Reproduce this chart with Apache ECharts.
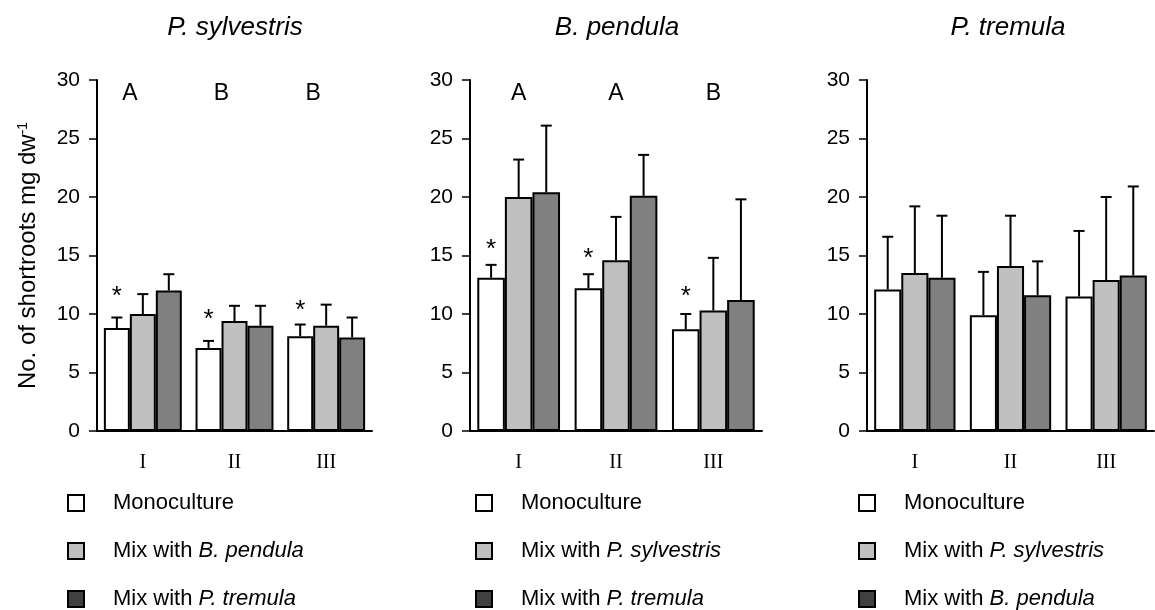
<!DOCTYPE html>
<html>
<head>
<meta charset="utf-8">
<script src="https://cdn.jsdelivr.net/npm/echarts@6/dist/echarts.min.js"></script>
<style>
html, body { margin: 0; padding: 0; background: #fff; }
#main { width: 1155px; height: 610px; }
</style>
</head>
<body>
<div id="main"></div>
<script>
// categories and tick labels
var cats = ['I', 'II', 'III'];
var yTicks = [0, 5, 10, 15, 20, 25, 30];

// P. sylvestris
var sylMono = [8.8, 7.1, 8.1];
var sylMonoSd = [0.9, 0.6, 1.0];
var sylMixB = [10.0, 9.4, 9.0];
var sylMixBSd = [1.7, 1.3, 1.8];
var sylMixT = [12.0, 9.0, 8.0];
var sylMixTSd = [1.4, 1.7, 1.7];
var sylStars = [12.1, 10.1, 10.9];
var sylLetters = ['A', 'B', 'B'];

// B. pendula
var penMono = [13.1, 12.2, 8.7];
var penMonoSd = [1.1, 1.2, 1.3];
var penMixS = [20.0, 14.6, 10.3];
var penMixSSd = [3.2, 3.7, 4.5];
var penMixT = [20.4, 20.1, 11.2];
var penMixTSd = [5.7, 3.5, 8.6];
var penStars = [16.1, 15.3, 12.1];
var penLetters = ['A', 'A', 'B'];

// P. tremula
var treMono = [12.1, 9.9, 11.5];
var treMonoSd = [4.5, 3.7, 5.6];
var treMixS = [13.5, 14.1, 12.9];
var treMixSSd = [5.7, 4.3, 7.1];
var treMixB = [13.1, 11.6, 13.3];
var treMixBSd = [5.3, 2.9, 7.6];

var letterY = 28.8;
var GAP = 0.15;
var WHITE = '#ffffff', LIGHT = '#c0c0c0', DARK = '#808080', ICON_DARK = '#404040';
var FONT = 'Liberation Sans, Arial, sans-serif';

var dom = document.getElementById('main');
var myChart = echarts.init(dom);

function errRender(k) {
    return function (params, api) {
        var cat = api.value(0), mean = api.value(1), sd = api.value(2);
        var base = api.coord([cat, mean]);
        var top = api.coord([cat, mean + sd]);
        var band = api.size([1, 0])[0];
        var w = band * (1 - GAP) / 3;
        var x = base[0] - band * (1 - GAP) / 2 + (k + 0.5) * w;
        var cap = 11;
        return {
            type: 'group',
            children: [
                {type: 'line', shape: {x1: x, y1: base[1], x2: x, y2: top[1]}, style: {stroke: '#000', lineWidth: 2}},
                {type: 'line', shape: {x1: x - cap / 2, y1: top[1], x2: x + cap / 2, y2: top[1]}, style: {stroke: '#000', lineWidth: 2}}
            ]
        };
    };
}

function toRows(means, sds) {
    return means.map(function (m, i) { return [i, m, sds[i]]; });
}

function starMarks(vals) {
    return {
        symbol: 'circle', symbolSize: 0, silent: true,
        label: {show: true, formatter: '*', fontSize: 26, fontFamily: FONT, color: '#000', offset: [0, 7]},
        data: vals.map(function (v, i) { return {coord: [i, v]}; })
    };
}

function letterMarks(letters, shift) {
    return {
        symbol: 'circle', symbolSize: 0, silent: true,
        label: {show: true, fontSize: 23, fontFamily: FONT, color: '#000', offset: [shift, 0],
            formatter: function (p) { return p.name; }},
        data: letters.map(function (t, i) { return {name: t, coord: [i, letterY]}; })
    };
}

var series = [];
function addPanel(idx, names, colors, means, sds, stars, letters, shift) {
    for (var k = 0; k < 3; k++) {
        var s = {
            name: names[k], type: 'bar', xAxisIndex: idx, yAxisIndex: idx,
            data: means[k], barGap: '0%', barCategoryGap: (GAP * 100) + '%',
            itemStyle: {color: colors[k], borderColor: '#000', borderWidth: 2},
            emphasis: {disabled: true}
        };
        if (k === 0 && stars) s.markPoint = starMarks(stars);
        if (k === 1 && letters) s.markPoint = letterMarks(letters, shift);
        series.push(s);
    }
    for (var j = 0; j < 3; j++) {
        series.push({
            type: 'custom', xAxisIndex: idx, yAxisIndex: idx, z: 3, silent: true,
            renderItem: errRender(j), encode: {x: 0, y: 1},
            data: toRows(means[j], sds[j])
        });
    }
}

addPanel(0, ['Monoculture', 'Mix with B. pendula', 'Mix with P. tremula'], [WHITE, LIGHT, DARK],
    [sylMono, sylMixB, sylMixT], [sylMonoSd, sylMixBSd, sylMixTSd], sylStars, sylLetters, -13);
addPanel(1, ['Monoculture', 'Mix with P. sylvestris', 'Mix with P. tremula'], [WHITE, LIGHT, DARK],
    [penMono, penMixS, penMixT], [penMonoSd, penMixSSd, penMixTSd], penStars, penLetters, 0);
addPanel(2, ['Monoculture', 'Mix with P. sylvestris', 'Mix with B. pendula'], [WHITE, LIGHT, DARK],
    [treMono, treMixS, treMixB], [treMonoSd, treMixSSd, treMixBSd], null, null, 0);

var grids = [
    {left: 97, right: 783, top: 80, bottom: 179},
    {left: 470, right: 393, top: 80, bottom: 179},
    {left: 867, right: 1, top: 80, bottom: 179}
];

function xAx(i) {
    return {
        type: 'category', gridIndex: i, data: cats,
        axisLine: {lineStyle: {color: '#000', width: 2}},
        axisTick: {show: false},
        axisLabel: {color: '#000', fontFamily: 'Liberation Serif, Times New Roman, serif', fontSize: 20, margin: 22}
    };
}
function yAx(i) {
    var a = {
        type: 'value', gridIndex: i, min: yTicks[0], max: yTicks[yTicks.length - 1], interval: 5,
        axisLine: {show: true, lineStyle: {color: '#000', width: 2}},
        axisTick: {show: true, inside: false, length: 8, lineStyle: {color: '#000', width: 1.5}},
        axisLabel: {color: '#000', fontFamily: FONT, fontSize: 21, margin: 17},
        splitLine: {show: false}
    };
    if (i === 0) {
        a.name = 'No. of shortroots mg dw{s|-1}';
        a.nameLocation = 'middle';
        a.nameGap = 57;
        a.nameTextStyle = {color: '#000', fontFamily: FONT, fontSize: 24,
            rich: {s: {fontSize: 14, fontFamily: FONT, color: '#000', verticalAlign: 'top'}}};
    }
    return a;
}

function legendFmt(name) {
    if (name.indexOf('Mix with ') === 0) return 'Mix with {i|' + name.slice(9) + '}';
    return name;
}
function legend(left, names) {
    var cols = [WHITE, LIGHT, ICON_DARK];
    return {
        orient: 'vertical', left: left, top: 492, height: 400, padding: 0,
        itemWidth: 16, itemHeight: 16, itemGap: 26,
        icon: 'rect', selectedMode: false,
        data: names.map(function (n, i) {
            return {name: n, itemStyle: {color: cols[i], borderColor: '#000', borderWidth: 2}};
        }),
        formatter: legendFmt,
        textStyle: {color: '#000', fontFamily: FONT, fontSize: 22, lineHeight: 20, padding: [0, 0, 0, 24],
            rich: {i: {fontStyle: 'italic', fontFamily: FONT, fontSize: 22, lineHeight: 20, color: '#000'}}}
    };
}

function title(text, x) {
    return {
        text: text, left: x, top: 10, textAlign: 'center',
        textStyle: {color: '#000', fontFamily: FONT, fontSize: 26, fontStyle: 'italic', fontWeight: 'normal'}
    };
}

option = {
    animation: false,
    backgroundColor: '#fff',
    title: [title('P. sylvestris', 230), title('B. pendula', 612), title('P. tremula', 1003)],
    legend: [
        legend(67, ['Monoculture', 'Mix with B. pendula', 'Mix with P. tremula']),
        legend(475, ['Monoculture', 'Mix with P. sylvestris', 'Mix with P. tremula']),
        legend(858, ['Monoculture', 'Mix with P. sylvestris', 'Mix with B. pendula'])
    ],
    grid: grids,
    xAxis: [xAx(0), xAx(1), xAx(2)],
    yAxis: [yAx(0), yAx(1), yAx(2)],
    series: series
};
if (option && typeof option == "object") {
    myChart.setOption(option, true);
}
</script>
</body>
</html>
